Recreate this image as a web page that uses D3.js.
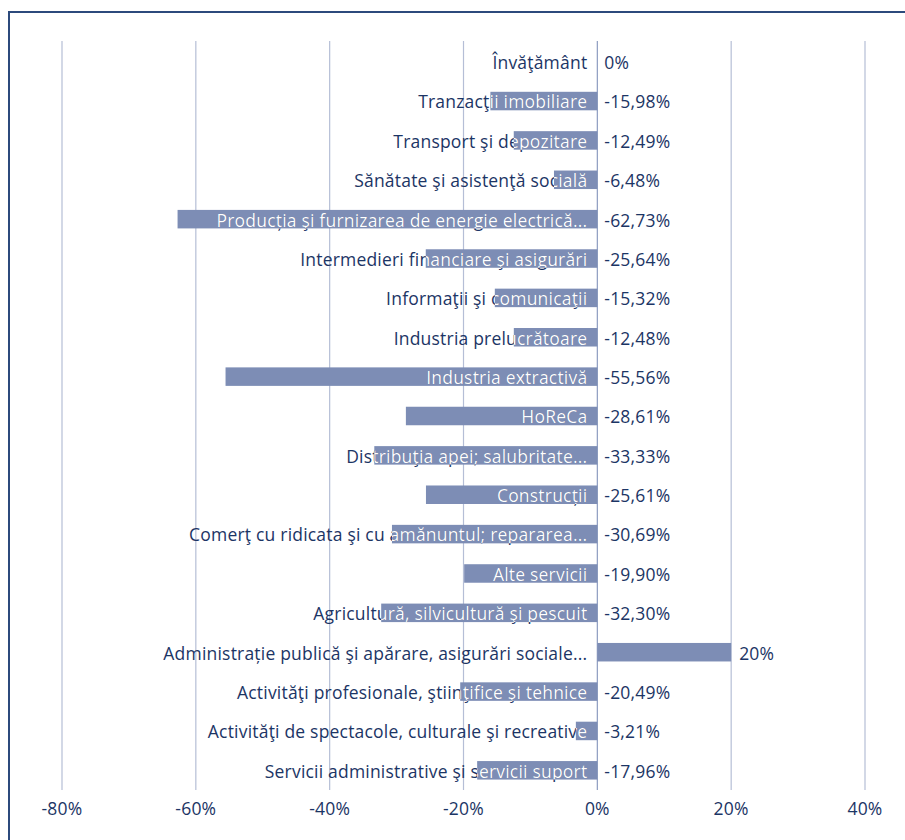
<!DOCTYPE html>
<html><head><meta charset="utf-8">
<script src="https://cdn.jsdelivr.net/npm/d3@7"></script>
<style>
html,body{margin:0;padding:0;background:#fff;}
svg text{font-family:"Open Sans",Lato,sans-serif;}
</style></head>
<body><div id="chart"></div>
<script>
const categories = [
 "Învăţământ",
 "Tranzacţii imobiliare",
 "Transport şi depozitare",
 "Sănătate şi asistenţă socială",
 "Producția şi furnizarea de energie electrică...",
 "Intermedieri financiare şi asigurări",
 "Informaţii şi comunicaţii",
 "Industria prelucrătoare",
 "Industria extractivă",
 "HoReCa",
 "Distribuţia apei; salubritate...",
 "Construcții",
 "Comerţ cu ridicata şi cu amănuntul; repararea...",
 "Alte servicii",
 "Agricultură, silvicultură şi pescuit",
 "Administrație publică şi apărare, asigurări sociale...",
 "Activităţi profesionale, ştiinţifice şi tehnice",
 "Activităţi de spectacole, culturale şi recreative",
 "Servicii administrative şi servicii suport"
];
const values = [0, -15.98, -12.49, -6.48, -62.73, -25.64, -15.32, -12.48, -55.56, -28.61, -33.33, -25.61, -30.69, -19.90, -32.30, 20, -20.49, -3.21, -17.96];
const tickValues = [-80, -60, -40, -20, 0, 20, 40];

const W = 905, H = 840;
const svg = d3.select("#chart").append("svg").attr("width", W).attr("height", H);

const x = d3.scaleLinear().domain([-80, 40]).range([62, 865]);
const y = d3.scaleBand().domain(categories).range([42, 790]).paddingInner(0.53).paddingOuter(0.265);

const textCol = "#1c3565", barCol = "#7d8db5", gridCol = "#b5bed6";
const fs = 17.5, ls = "0.2px";

svg.append("path").attr("d", `M9,${H} V12 H${W}`).attr("fill", "none").attr("stroke", "#2c4a7c").attr("stroke-width", 2);

svg.append("g").selectAll("line").data(tickValues).join("line")
  .attr("x1", d => x(d)).attr("x2", d => x(d)).attr("y1", 41).attr("y2", 790)
  .attr("stroke", d => d === 0 ? "#8c9bc0" : gridCol).attr("stroke-width", 1.2);

svg.append("g").selectAll("text").data(tickValues).join("text")
  .attr("x", d => x(d)).attr("y", 815).attr("text-anchor", "middle")
  .attr("fill", textCol).attr("font-size", fs).attr("letter-spacing", ls).text(d => d + "%");

const defs = svg.append("defs");
const rows = categories.map((c, i) => ({c, v: values[i], i}));

rows.forEach(r => {
  defs.append("clipPath").attr("id", "clip" + r.i).append("rect")
    .attr("x", Math.min(x(r.v), x(0))).attr("width", Math.abs(x(r.v) - x(0)))
    .attr("y", y(r.c)).attr("height", y.bandwidth());
});

svg.append("g").selectAll("rect").data(rows).join("rect")
  .attr("x", d => Math.min(x(d.v), x(0))).attr("width", d => Math.abs(x(d.v) - x(0)))
  .attr("y", d => y(d.c)).attr("height", y.bandwidth()).attr("fill", barCol);

const cy = d => y(d.c) + y.bandwidth() / 2;

const lab = svg.append("g");
lab.selectAll("text.dark").data(rows).join("text").attr("class", "dark")
  .attr("x", x(0) - 10).attr("y", cy).attr("dy", "0.42em").attr("text-anchor", "end")
  .attr("fill", textCol).attr("font-size", fs).attr("letter-spacing", ls).text(d => d.c);
lab.selectAll("text.light").data(rows).join("text").attr("class", "light")
  .attr("x", x(0) - 10).attr("y", cy).attr("dy", "0.42em").attr("text-anchor", "end")
  .attr("clip-path", d => `url(#clip${d.i})`)
  .attr("fill", "#ffffff").attr("font-size", fs).attr("letter-spacing", ls).text(d => d.c);

const fmt = v => (v === 0 ? "0" : (Number.isInteger(v) ? String(v) : v.toFixed(2).replace(".", ","))) + "%";
svg.append("g").selectAll("text").data(rows).join("text")
  .attr("x", d => d.v > 0 ? x(d.v) + 8 : x(0) + 7).attr("y", cy).attr("dy", "0.42em")
  .attr("fill", textCol).attr("font-size", fs).attr("letter-spacing", ls).text(d => fmt(d.v));
</script></body></html>
